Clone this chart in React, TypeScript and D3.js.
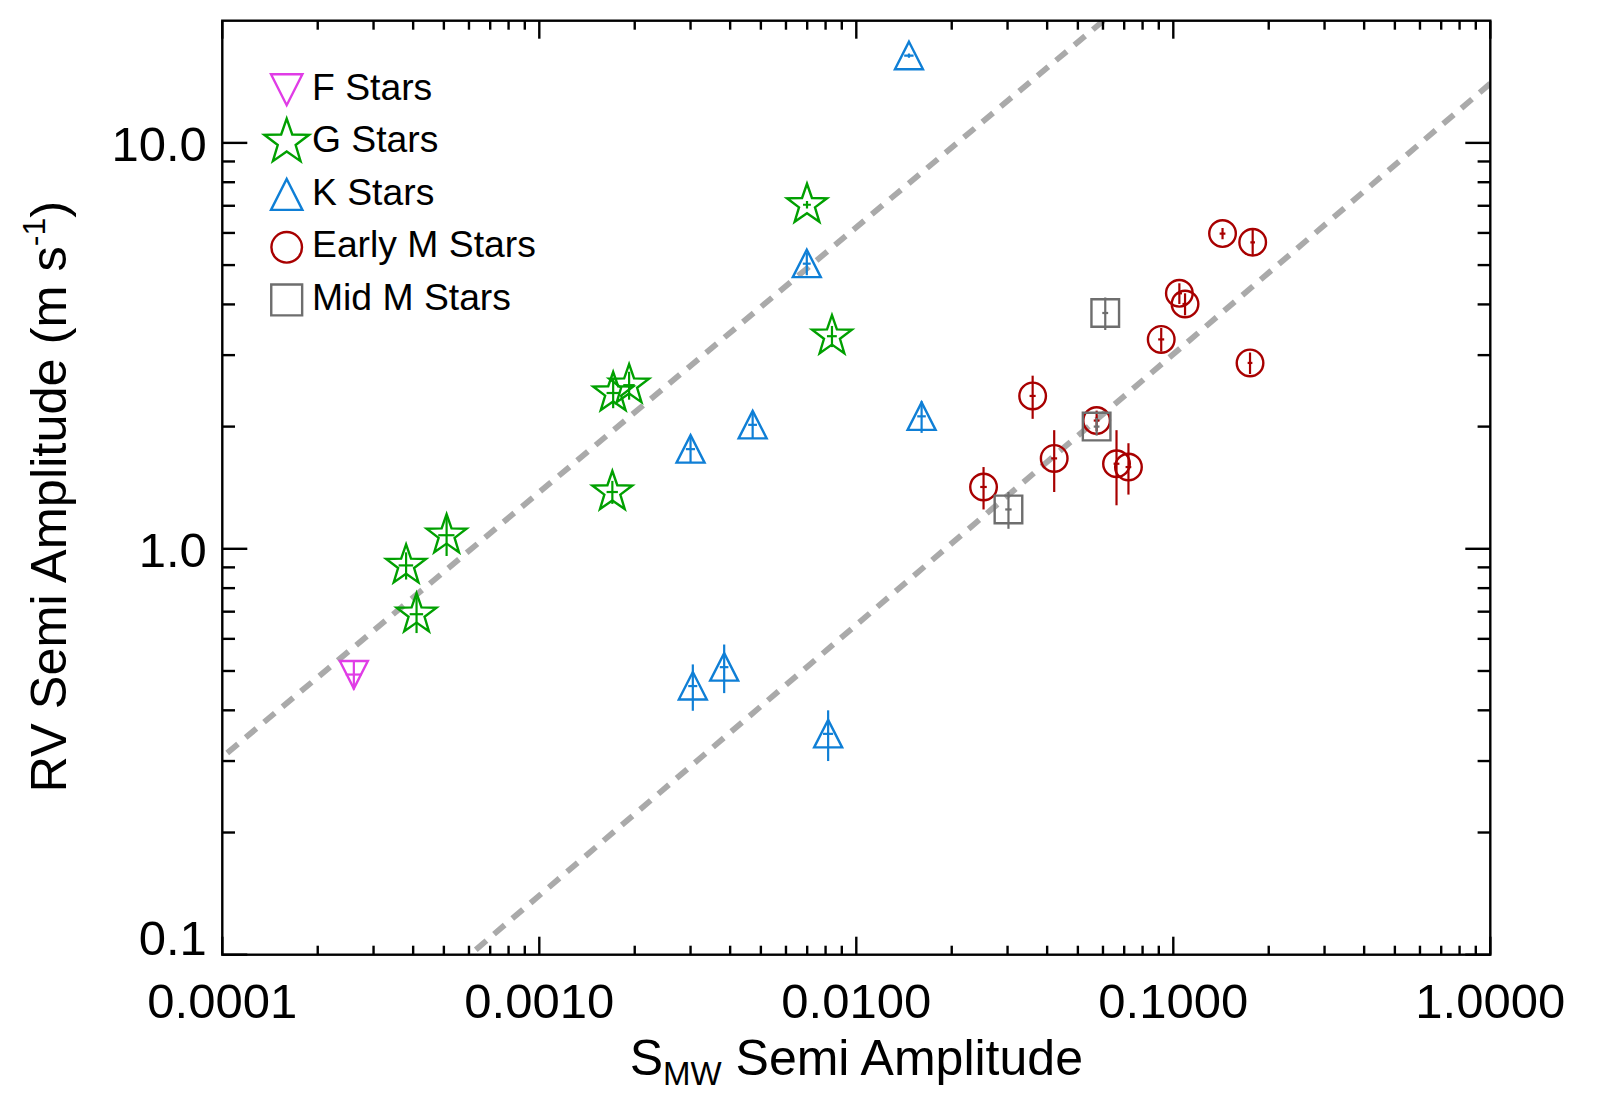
import React, { useEffect, useRef } from 'react';
import * as d3 from 'd3';

const width = 1605;
const height = 1110;
const frame = { left: 222.3, right: 1490.3, top: 20.7, bottom: 954.7 };

// each star: S_MW amplitude (s) with error, RV amplitude in m/s (rv) with error
type Star = { s: number; sErr: number; rv: number; rvErr: number };

const fStars: Star[] = [
  { s: 2.6e-4, sErr: 1.5e-5, rv: 0.49, rvErr: 0.04 },
];

const gStars: Star[] = [
  { s: 3.8e-4, sErr: 2.0e-5, rv: 0.91, rvErr: 0.07 },
  { s: 5.1e-4, sErr: 3.0e-5, rv: 1.08, rvErr: 0.12 },
  { s: 4.1e-4, sErr: 2.0e-5, rv: 0.69, rvErr: 0.07 },
  { s: 1.70e-3, sErr: 7.0e-5, rv: 1.38, rvErr: 0.09 },
  { s: 1.71e-3, sErr: 8.0e-5, rv: 2.42, rvErr: 0.2 },
  { s: 1.92e-3, sErr: 8.0e-5, rv: 2.53, rvErr: 0.2 },
  { s: 8.38e-3, sErr: 3.0e-4, rv: 3.34, rvErr: 0.2 },
  { s: 6.99e-3, sErr: 2.0e-4, rv: 7.04, rvErr: 0.15 },
];

const kStars: Star[] = [
  { s: 0.01466, sErr: 5e-4, rv: 16.4, rvErr: 0.2 },
  { s: 6.98e-3, sErr: 2e-4, rv: 5.04, rvErr: 0.32 },
  { s: 3.0e-3, sErr: 1e-4, rv: 1.76, rvErr: 0.13 },
  { s: 4.71e-3, sErr: 1.5e-4, rv: 2.02, rvErr: 0.15 },
  { s: 0.01607, sErr: 5e-4, rv: 2.12, rvErr: 0.19 },
  { s: 3.05e-3, sErr: 1e-4, rv: 0.459, rvErr: 0.06 },
  { s: 3.83e-3, sErr: 1.2e-4, rv: 0.511, rvErr: 0.07 },
  { s: 8.15e-3, sErr: 3e-4, rv: 0.35, rvErr: 0.05 },
];

const earlyMStars: Star[] = [
  { s: 0.143, sErr: 0.003, rv: 5.98, rvErr: 0.19 },
  { s: 0.178, sErr: 0.003, rv: 5.69, rvErr: 0.42 },
  { s: 0.1045, sErr: 0.002, rv: 4.26, rvErr: 0.25 },
  { s: 0.1089, sErr: 0.002, rv: 4.01, rvErr: 0.25 },
  { s: 0.0916, sErr: 0.002, rv: 3.28, rvErr: 0.22 },
  { s: 0.1746, sErr: 0.003, rv: 2.87, rvErr: 0.175 },
  { s: 0.036, sErr: 0.0008, rv: 2.38, rvErr: 0.29 },
  { s: 0.0573, sErr: 0.0012, rv: 2.07, rvErr: 0.12 },
  { s: 0.0421, sErr: 0.0009, rv: 1.67, rvErr: 0.29 },
  { s: 0.0662, sErr: 0.0014, rv: 1.62, rvErr: 0.34 },
  { s: 0.0722, sErr: 0.0015, rv: 1.59, rvErr: 0.23 },
  { s: 0.0252, sErr: 0.0006, rv: 1.42, rvErr: 0.17 },
];

const midMStars: Star[] = [
  { s: 0.061, sErr: 0.0013, rv: 3.81, rvErr: 0.35 },
  { s: 0.0573, sErr: 0.0012, rv: 2.0, rvErr: 0.1 },
  { s: 0.0302, sErr: 0.0007, rv: 1.25, rvErr: 0.13 },
];

const xTicks = [1e-4, 1e-3, 1e-2, 1e-1, 1];
const xTickLabels = ['0.0001', '0.0010', '0.0100', '0.1000', '1.0000'];
const yTicks = [0.1, 1, 10];
const yTickLabels = ['0.1', '1.0', '10.0'];

// dashed relations: log10(RV) = intercept + slope * log10(S)
const fitSlopes = [0.6526, 0.6668];
const fitIntercepts = [2.0974, 1.1463];

type Shape = 'down' | 'star' | 'up' | 'circle' | 'square';

const groups: { label: string; color: string; shape: Shape; data: Star[] }[] = [
  { label: 'F Stars', color: '#e03ce6', shape: 'down', data: fStars },
  { label: 'G Stars', color: '#00a000', shape: 'star', data: gStars },
  { label: 'K Stars', color: '#0f7fd6', shape: 'up', data: kStars },
  { label: 'Early M Stars', color: '#a80000', shape: 'circle', data: earlyMStars },
  { label: 'Mid M Stars', color: '#6e6e6e', shape: 'square', data: midMStars },
];

const starPath = (R: number) => {
  const pts: string[] = [];
  for (let i = 0; i < 10; i++) {
    const a = -Math.PI / 2 + (i * Math.PI) / 5;
    const r = i % 2 === 0 ? R : R * 0.4;
    pts.push(`${(r * Math.cos(a)).toFixed(2)},${(r * Math.sin(a)).toFixed(2)}`);
  }
  return `M${pts.join('L')}Z`;
};

const symbolPath = (shape: Shape, k: number) => {
  const h = 14 * k;
  switch (shape) {
    case 'up':
      return `M0,${-h} L${h},${h - 0.5} L${-h},${h - 0.5} Z`;
    case 'down':
      return `M${-h},${-h + 0.5} L${h},${-h + 0.5} L0,${h} Z`;
    case 'star':
      return starPath(21 * k);
    case 'square':
      return `M${-13.8 * k},${-13.8 * k} h${27.6 * k} v${27.6 * k} h${-27.6 * k} Z`;
    default:
      return d3.path().toString();
  }
};

const FONT = '"Liberation Sans", Arial, Helvetica, sans-serif';

const App: React.FC = () => {
  const svgRef = useRef<SVGSVGElement>(null);

  useEffect(() => {
    if (!svgRef.current) return;
    const svg = d3.select(svgRef.current);
    svg.selectAll('*').remove();

    const x = d3.scaleLog().domain([1e-4, 1]).range([frame.left, frame.right]);
    const y = d3.scaleLog().domain([0.1, 20]).range([frame.bottom, frame.top]);

    svg.append('rect').attr('width', width).attr('height', height).attr('fill', '#ffffff');

    svg.append('defs').append('clipPath').attr('id', 'plot-clip')
      .append('rect')
      .attr('x', frame.left).attr('y', frame.top)
      .attr('width', frame.right - frame.left).attr('height', frame.bottom - frame.top);

    // dashed fit lines, drawn from the high end down
    const line = d3.line<number>().x(s => x(s));
    fitSlopes.forEach((slope, i) => {
      const ends = [1, 1e-4];
      svg.append('path')
        .attr('clip-path', 'url(#plot-clip)')
        .attr('d', line.y(s => y(Math.pow(10, fitIntercepts[i] + slope * Math.log10(s))))(ends))
        .attr('fill', 'none')
        .attr('stroke', '#aaaaaa')
        .attr('stroke-width', 5.8)
        .attr('stroke-dasharray', '14 10');
    });

    // points with error bars
    groups.forEach(g => {
      const layer = svg.append('g').attr('clip-path', 'url(#plot-clip)');
      g.data.forEach(d => {
        layer.append('line')
          .attr('x1', x(d.s)).attr('x2', x(d.s))
          .attr('y1', y(d.rv - d.rvErr)).attr('y2', y(d.rv + d.rvErr))
          .attr('stroke', g.color).attr('stroke-width', 2.2);
        layer.append('line')
          .attr('x1', x(d.s - d.sErr)).attr('x2', x(d.s + d.sErr))
          .attr('y1', y(d.rv)).attr('y2', y(d.rv))
          .attr('stroke', g.color).attr('stroke-width', 2.2);
        if (g.shape === 'circle') {
          layer.append('circle')
            .attr('cx', x(d.s)).attr('cy', y(d.rv)).attr('r', 13.3)
            .attr('fill', 'none').attr('stroke', g.color).attr('stroke-width', 2.4);
        } else {
          layer.append('path')
            .attr('transform', `translate(${x(d.s)},${y(d.rv)})`)
            .attr('d', symbolPath(g.shape, 1))
            .attr('fill', 'none').attr('stroke', g.color).attr('stroke-width', 2.4)
            .attr('stroke-linejoin', 'miter');
        }
      });
    });

    // frame and ticks
    const axes = svg.append('g').attr('stroke', '#000').attr('stroke-width', 2.4);
    axes.append('rect')
      .attr('x', frame.left).attr('y', frame.top)
      .attr('width', frame.right - frame.left).attr('height', frame.bottom - frame.top)
      .attr('fill', 'none');

    const xMinor = d3.range(-4, 0).flatMap(e => d3.range(2, 10).map(m => m * Math.pow(10, e)));
    const yMinor = d3.range(-1, 2).flatMap(e => d3.range(2, 10).map(m => m * Math.pow(10, e))).filter(v => v < 20);

    const xTickMarks = [...xTicks.map(v => ({ v, len: 18 })), ...xMinor.map(v => ({ v, len: 9 }))];
    xTickMarks.forEach(t => {
      axes.append('line').attr('x1', x(t.v)).attr('x2', x(t.v)).attr('y1', frame.bottom).attr('y2', frame.bottom - t.len);
      axes.append('line').attr('x1', x(t.v)).attr('x2', x(t.v)).attr('y1', frame.top).attr('y2', frame.top + t.len);
    });
    const yTickMarks = [...yTicks.map(v => ({ v, len: 25 })), ...yMinor.map(v => ({ v, len: 12.7 }))];
    yTickMarks.forEach(t => {
      axes.append('line').attr('y1', y(t.v)).attr('y2', y(t.v)).attr('x1', frame.left).attr('x2', frame.left + t.len);
      axes.append('line').attr('y1', y(t.v)).attr('y2', y(t.v)).attr('x1', frame.right).attr('x2', frame.right - t.len);
    });

    // tick labels
    xTicks.forEach((v, i) => {
      svg.append('text')
        .attr('x', x(v)).attr('y', frame.bottom + 63.5)
        .attr('text-anchor', 'middle')
        .attr('font-family', FONT).attr('font-size', 49)
        .text(xTickLabels[i]);
    });
    yTicks.forEach((v, i) => {
      svg.append('text')
        .attr('x', frame.left - 15.5).attr('y', Math.min(y(v) + 17.8, frame.bottom + 0.5))
        .attr('text-anchor', 'end')
        .attr('font-family', FONT).attr('font-size', 49)
        .text(yTickLabels[i]);
    });

    // axis titles
    const xTitle = svg.append('text')
      .attr('x', (frame.left + frame.right) / 2).attr('y', 1075)
      .attr('text-anchor', 'middle')
      .attr('font-family', FONT).attr('font-size', 50);
    xTitle.append('tspan').text('S');
    xTitle.append('tspan').attr('font-size', 33).attr('dy', 10).text('MW');
    xTitle.append('tspan').attr('dy', -10).text(' Semi Amplitude');

    const yTitle = svg.append('text')
      .attr('transform', `translate(66,${(frame.top + frame.bottom) / 2 + 9}) rotate(-90)`)
      .attr('text-anchor', 'middle')
      .attr('font-family', FONT).attr('font-size', 50.5);
    yTitle.append('tspan').text('RV Semi Amplitude (m s');
    yTitle.append('tspan').attr('font-size', 32).attr('dy', -21).text('-1');
    yTitle.append('tspan').attr('dy', 21).text(')');

    // legend
    const legend = svg.append('g');
    groups.forEach((g, i) => {
      const cy = 89.5 + i * 52.6;
      if (g.shape === 'circle') {
        legend.append('circle')
          .attr('cx', 286.7).attr('cy', cy).attr('r', 15.3)
          .attr('fill', 'none').attr('stroke', g.color).attr('stroke-width', 2.4);
      } else {
        legend.append('path')
          .attr('transform', `translate(286.7,${cy})`)
          .attr('d', symbolPath(g.shape, 1.12))
          .attr('fill', 'none').attr('stroke', g.color).attr('stroke-width', 2.4);
      }
      legend.append('text')
        .attr('x', 312).attr('y', cy + 10)
        .attr('font-family', FONT).attr('font-size', 37.3)
        .text(g.label);
    });
  }, []);

  return (
    <svg
      ref={svgRef}
      width={width}
      height={height}
      style={{ position: 'absolute', left: 0, top: 0, display: 'block' }}
    />
  );
};

export default App;
